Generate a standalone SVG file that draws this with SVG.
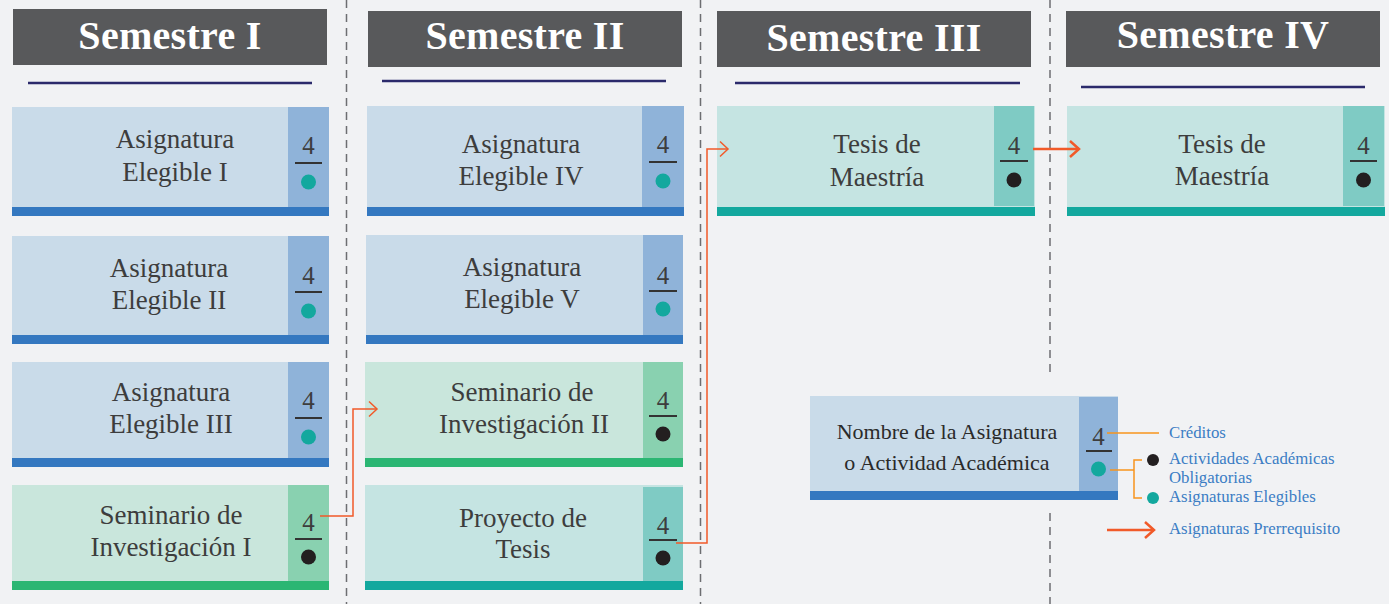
<svg xmlns="http://www.w3.org/2000/svg" width="1389" height="604" viewBox="0 0 1389 604">
<style>
.bg{fill:#f1f2f4}
.hdr{fill:#58595b}
.hdrt{font-family:"Liberation Serif",serif;font-weight:bold;font-size:40px;fill:#ffffff;text-anchor:middle;letter-spacing:0.3px}
.ul{stroke:#2b2a6b;stroke-width:2.5}
.div{stroke:#6d6e71;stroke-width:1.5;stroke-dasharray:8 6;fill:none}
.t{font-family:"Liberation Serif",serif;font-size:27px;fill:#3d3d3d;text-anchor:middle}
.tl{font-family:"Liberation Serif",serif;font-size:22px;fill:#2a2a2a;text-anchor:middle}
.num{font-family:"Liberation Serif",serif;font-size:25px;fill:#3d3d3d;text-anchor:middle}
.frac{stroke:#333333;stroke-width:2}
.bB{fill:#c9dbe9}.pB{fill:#8fb3d9}.rB{fill:#3478c0}
.bG{fill:#c9e6dc}.pG{fill:#89d1b0}.rG{fill:#2bb673}
.bT{fill:#c5e4e2}.pT{fill:#7fcbc4}.rT{fill:#13a89e}
.dT{fill:#13a89e}.dK{fill:#231f20}
.con{fill:none;stroke:#f15a29;stroke-width:1.5}
.conT{fill:none;stroke:#f15a29;stroke-width:2.5}
.leg{font-family:"Liberation Serif",serif;font-size:16.8px;fill:#3b7dc4}
.lo{fill:none;stroke:#f7941d;stroke-width:1.5}
</style>
<defs>
<marker id="ah" markerUnits="userSpaceOnUse" markerWidth="20" markerHeight="20" viewBox="-10 -10 20 20" refX="0" refY="0" orient="auto">
<path d="M-8,-7.5 L0,0 L-8,7.5" fill="none" stroke="#f15a29" stroke-width="1.5"/>
</marker>
<marker id="ahT" markerUnits="userSpaceOnUse" markerWidth="24" markerHeight="24" viewBox="-12 -12 24 24" refX="0" refY="0" orient="auto">
<path d="M-9,-8 L0,0 L-9,8" fill="none" stroke="#f15a29" stroke-width="2.5"/>
</marker>
</defs>
<rect class="bg" x="0" y="0" width="1389" height="604"/>

<g id="dividers">
<line class="div" x1="346.5" y1="0" x2="346.5" y2="604"/>
<line class="div" x1="700.5" y1="0" x2="700.5" y2="604"/>
<line class="div" x1="1050" y1="0" x2="1050" y2="373"/>
<line class="div" x1="1050" y1="513" x2="1050" y2="604"/>
</g>

<g id="header-1">
<rect class="hdr" x="13" y="9" width="314" height="56"/>
<text class="hdrt" x="170" y="49">Semestre I</text>
<line class="ul" x1="28" y1="83" x2="312" y2="83"/>
</g>
<g id="header-2">
<rect class="hdr" x="368" y="11" width="314" height="56"/>
<text class="hdrt" x="525" y="49">Semestre II</text>
<line class="ul" x1="382" y1="81" x2="666" y2="81"/>
</g>
<g id="header-3">
<rect class="hdr" x="717" y="11" width="314" height="56"/>
<text class="hdrt" x="874" y="51">Semestre III</text>
<line class="ul" x1="735" y1="83" x2="1020" y2="83"/>
</g>
<g id="header-4">
<rect class="hdr" x="1066" y="11" width="314" height="56"/>
<text class="hdrt" x="1223" y="48">Semestre IV</text>
<line class="ul" x1="1081" y1="87" x2="1365" y2="87"/>
</g>

<g id="card-elegible-1">
<rect class="bB" x="12" y="107" width="317" height="108"/>
<rect class="pB" x="288" y="107" width="41" height="100"/>
<rect class="rB" x="12" y="207" width="317" height="9"/>
<text class="t" x="175" y="148">Asignatura</text>
<text class="t" x="175" y="181">Elegible I</text>
<text class="num" x="308.5" y="154">4</text>
<line class="frac" x1="295" y1="163" x2="322" y2="163"/>
<circle class="dT" cx="308.5" cy="182" r="7.5"/>
</g>
<g id="card-elegible-2">
<rect class="bB" x="12" y="236" width="317" height="108"/>
<rect class="pB" x="288" y="236" width="41" height="99"/>
<rect class="rB" x="12" y="335" width="317" height="9"/>
<text class="t" x="169" y="277">Asignatura</text>
<text class="t" x="169" y="309">Elegible II</text>
<text class="num" x="308.5" y="284">4</text>
<line class="frac" x1="295" y1="292" x2="322" y2="292"/>
<circle class="dT" cx="308.5" cy="311" r="7.5"/>
</g>
<g id="card-elegible-3">
<rect class="bB" x="12" y="362" width="317" height="105"/>
<rect class="pB" x="288" y="362" width="41" height="97"/>
<rect class="rB" x="12" y="458" width="317" height="9"/>
<text class="t" x="171" y="401">Asignatura</text>
<text class="t" x="171" y="433">Elegible III</text>
<text class="num" x="308.5" y="409">4</text>
<line class="frac" x1="295" y1="418" x2="322" y2="418"/>
<circle class="dT" cx="308.5" cy="437" r="7.5"/>
</g>
<g id="card-seminario-1">
<rect class="bG" x="12" y="485" width="317" height="105"/>
<rect class="pG" x="288" y="485" width="41" height="96"/>
<rect class="rG" x="12" y="581" width="317" height="9"/>
<text class="t" x="171" y="524">Seminario de</text>
<text class="t" x="171" y="556">Investigación I</text>
<text class="num" x="308.5" y="531">4</text>
<line class="frac" x1="295" y1="539" x2="322" y2="539"/>
<circle class="dK" cx="308.5" cy="557" r="7.5"/>
</g>

<g id="card-elegible-4">
<rect class="bB" x="367" y="106" width="317" height="110"/>
<rect class="pB" x="642" y="106" width="42" height="101"/>
<rect class="rB" x="367" y="207" width="317" height="9"/>
<text class="t" x="521" y="153">Asignatura</text>
<text class="t" x="521" y="185">Elegible IV</text>
<text class="num" x="663" y="153">4</text>
<line class="frac" x1="649" y1="162" x2="677" y2="162"/>
<circle class="dT" cx="663" cy="181" r="7.5"/>
</g>
<g id="card-elegible-5">
<rect class="bB" x="366" y="235" width="317" height="109"/>
<rect class="pB" x="643" y="235" width="40" height="100"/>
<rect class="rB" x="366" y="335" width="317" height="9"/>
<text class="t" x="522" y="276">Asignatura</text>
<text class="t" x="522" y="308">Elegible V</text>
<text class="num" x="663" y="284">4</text>
<line class="frac" x1="649" y1="291" x2="677" y2="291"/>
<circle class="dT" cx="663" cy="309" r="7.5"/>
</g>
<g id="card-seminario-2">
<rect class="bG" x="365" y="362" width="318" height="105"/>
<rect class="pG" x="643" y="362" width="40" height="96"/>
<rect class="rG" x="365" y="458" width="318" height="9"/>
<text class="t" x="522" y="401">Seminario de</text>
<text class="t" x="524" y="433">Investigación II</text>
<text class="num" x="663" y="409">4</text>
<line class="frac" x1="649" y1="416" x2="677" y2="416"/>
<circle class="dK" cx="663" cy="434" r="7.5"/>
</g>
<g id="card-proyecto">
<rect class="bT" x="365" y="485" width="318" height="105"/>
<rect class="pT" x="643" y="487" width="40" height="94"/>
<rect class="rT" x="365" y="581" width="318" height="9"/>
<text class="t" x="523" y="527">Proyecto de</text>
<text class="t" x="523" y="558">Tesis</text>
<text class="num" x="663" y="534">4</text>
<line class="frac" x1="649" y1="540" x2="677" y2="540"/>
<circle class="dK" cx="663" cy="558" r="7.5"/>
</g>

<g id="card-tesis-3">
<rect class="bT" x="717" y="106" width="318" height="110"/>
<rect class="pT" x="994" y="106" width="40" height="100"/>
<rect class="rT" x="717" y="207" width="318" height="9"/>
<text class="t" x="877" y="153">Tesis de</text>
<text class="t" x="877" y="186">Maestría</text>
<text class="num" x="1014" y="154">4</text>
<line class="frac" x1="1000" y1="161" x2="1028" y2="161"/>
<circle class="dK" cx="1014" cy="180" r="7.5"/>
</g>
<g id="card-tesis-4">
<rect class="bT" x="1067" y="106" width="318" height="110"/>
<rect class="pT" x="1343" y="106" width="41" height="100"/>
<rect class="rT" x="1067" y="207" width="318" height="9"/>
<text class="t" x="1222" y="153">Tesis de</text>
<text class="t" x="1222" y="185">Maestría</text>
<text class="num" x="1363.5" y="154">4</text>
<line class="frac" x1="1350" y1="161" x2="1377" y2="161"/>
<circle class="dK" cx="1363.5" cy="180" r="7.5"/>
</g>

<g id="connectors">
<path class="con" d="M320,516 H353 V409 H377" marker-end="url(#ah)"/>
<path class="con" d="M676,543 H707 V149 H728" marker-end="url(#ah)"/>
<path class="conT" d="M1033,149 H1079" marker-end="url(#ahT)"/>
</g>

<g id="legend">
<rect class="bB" x="810" y="396" width="308" height="104"/>
<rect class="pB" x="1079" y="397" width="39" height="94"/>
<rect class="rB" x="810" y="491" width="308" height="9"/>
<text class="tl" x="947" y="439">Nombre de la Asignatura</text>
<text class="tl" x="947" y="470">o Actividad Académica</text>
<text class="num" x="1098.5" y="445">4</text>
<line class="frac" x1="1086" y1="451" x2="1112" y2="451"/>
<circle class="dT" cx="1098.5" cy="469" r="7.5"/>
<line class="lo" x1="1107" y1="433" x2="1159" y2="433"/>
<text class="leg" x="1169" y="438">Créditos</text>
<line class="lo" x1="1110" y1="470" x2="1134" y2="470"/>
<path class="lo" d="M1142,460 H1134 V498 H1142"/>
<circle class="dK" cx="1153" cy="460" r="6"/>
<circle class="dT" cx="1153" cy="498" r="6"/>
<text class="leg" x="1169" y="464">Actividades Académicas</text>
<text class="leg" x="1169" y="483">Obligatorias</text>
<text class="leg" x="1169" y="502">Asignaturas Elegibles</text>
<path class="conT" d="M1107,530 H1154" marker-end="url(#ahT)"/>
<text class="leg" x="1169" y="534">Asignaturas Prerrequisito</text>
</g>
</svg>
